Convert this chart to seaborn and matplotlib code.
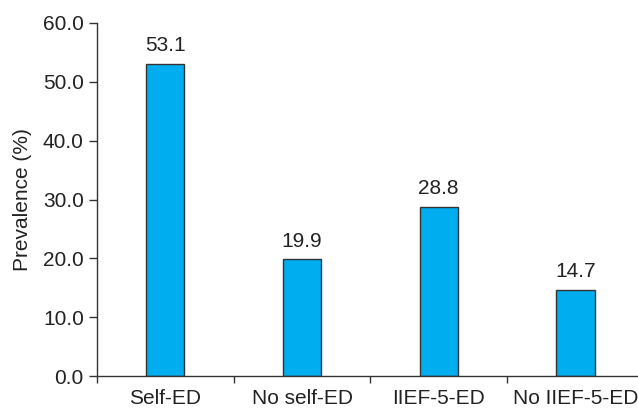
import matplotlib
matplotlib.use("Agg")
import matplotlib.pyplot as plt
import seaborn as sns
import pandas as pd
from matplotlib.ticker import FixedLocator

categories = ["Self-ED", "No self-ED", "IIEF-5-ED", "No IIEF-5-ED"]
prevalence = [53.1, 19.9, 28.8, 14.7]

sns.set_style("white")
plt.rcParams['font.family'] = ['Liberation Sans', 'DejaVu Sans']

df = pd.DataFrame({"Group": categories, "Prevalence": prevalence})

fig = plt.figure(figsize=(6.38, 4.08), dpi=100)
ax = fig.add_axes([97 / 638, 32 / 408, 541 / 638, 353 / 408])

sns.barplot(data=df, x="Group", y="Prevalence", color="#00aeef", width=0.28,
            edgecolor="#333333", linewidth=1.0, saturation=1, ax=ax)

for i, v in enumerate(prevalence):
    ax.annotate(f"{v:.1f}", (i, v), xytext=(0, 6), textcoords="offset points",
                ha="center", va="bottom", fontsize=15, color="#222222")

ax.set_ylim(0, 60)
ax.set_xlim(-0.5, -0.5 + 541 / 136.7)
ax.set_yticks([0, 10, 20, 30, 40, 50, 60])
ax.set_yticklabels([f"{t:.1f}" for t in [0, 10, 20, 30, 40, 50, 60]])
ax.xaxis.set_minor_locator(FixedLocator([-0.5, 0.5, 1.5, 2.5]))
ax.tick_params(axis="x", which="major", length=0, pad=9, labelsize=15, labelcolor="#222222")
ax.tick_params(axis="x", which="minor", length=5, width=1, color="#333333", direction="out", bottom=True)
ax.tick_params(axis="y", length=6, width=1, color="#333333", direction="out", left=True,
               labelsize=15, labelcolor="#222222")

ax.set_xlabel("")
ax.set_ylabel("Prevalence (%)", fontsize=15, color="#222222", labelpad=8)

sns.despine(ax=ax, top=True, right=True)
for s in ["left", "bottom"]:
    ax.spines[s].set_color("#333333")
    ax.spines[s].set_linewidth(1.0)

fig.savefig("out.png", dpi=100)
